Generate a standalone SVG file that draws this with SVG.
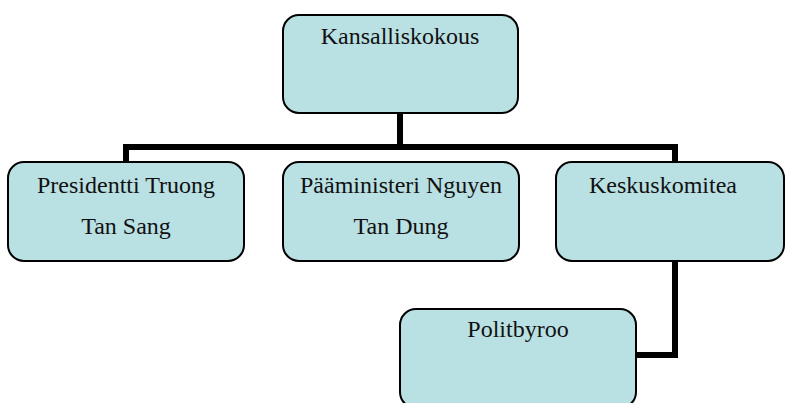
<svg xmlns="http://www.w3.org/2000/svg" width="785" height="403" viewBox="0 0 785 403">
<style>
.box{fill:#b9e0e3;stroke:#000;stroke-width:2}
.t{fill:#111;text-anchor:middle}
.c{fill:none;stroke:#000;stroke-width:6;stroke-linejoin:miter}
</style>
<rect width="785" height="403" fill="#fff"/>
<g id="connectors">
<path class="c" d="M400,113 V147 M126,162 V147 H675 V162"/>
<path class="c" d="M675,261 V355 H636"/>
</g>
<g font-family="Liberation Serif" font-size="24">
<g id="kansalliskokous">
<rect class="box" x="283" y="15" width="235" height="98" rx="16"/>
<text class="t" x="400" y="44">Kansalliskokous</text>
</g>
<g id="presidentti">
<rect class="box" x="8" y="162" width="236" height="99" rx="16"/>
<text class="t" x="126" y="193">Presidentti Truong</text>
<text class="t" x="126" y="234">Tan Sang</text>
</g>
<g id="paaministeri">
<rect class="box" x="283" y="162" width="236" height="99" rx="16"/>
<text class="t" x="401" y="193">Pääministeri Nguyen</text>
<text class="t" x="401" y="234">Tan Dung</text>
</g>
<g id="keskuskomitea">
<rect class="box" x="556" y="162" width="228" height="99" rx="16"/>
<text class="t" x="663" y="193">Keskuskomitea</text>
</g>
<g id="politbyroo">
<rect class="box" x="400" y="309" width="236" height="99" rx="16"/>
<text class="t" x="518" y="337">Politbyroo</text>
</g>
</g>
</svg>
